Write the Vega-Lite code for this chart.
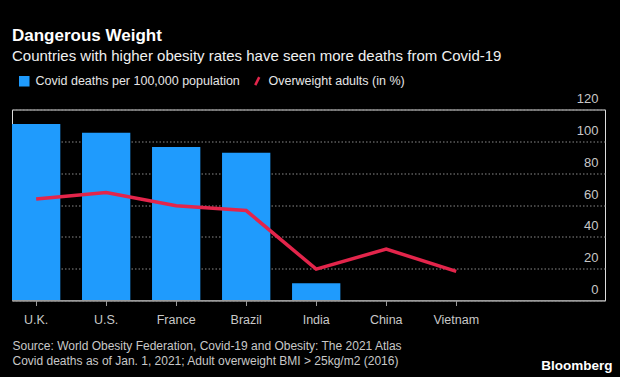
{
  "$schema": "https://vega.github.io/schema/vega-lite/v6.json",
  "width": 593,
  "height": 191,
  "autosize": {"type": "none"},
  "padding": {"left": 12, "top": 109.5, "right": 15, "bottom": 76.5},
  "background": "#000000",
  "title": {
    "text": "Dangerous Weight",
    "subtitle": "Countries with higher obesity rates have seen more deaths from Covid-19",
    "anchor": "start",
    "frame": "group",
    "offset": 10,
    "font": "Liberation Sans",
    "fontSize": 17,
    "fontWeight": "bold",
    "color": "#ffffff",
    "subtitleFont": "Liberation Sans",
    "subtitleFontSize": 15,
    "subtitleColor": "#f0f0f0",
    "subtitlePadding": 4
  },
  "config": {
    "axisRight": {
      "domain": false,
      "ticks": false,
      "grid": true,
      "gridColor": "#8a8a8a",
      "gridDash": [1.5, 2],
      "gridWidth": 1,
      "labelOverlap": false,
      "labelAlign": "right",
      "labelBaseline": "bottom",
      "labelPadding": -7,
      "labelOffset": -4,
      "labelFont": "Liberation Sans",
      "labelFontSize": 13,
      "labelColor": "#c8c8c8",
      "titleAngle": 0,
      "titleFont": "Liberation Sans",
      "titleFontSize": 13.5,
      "titleFontWeight": "bold",
      "titleColor": "#ffffff",
      "titleAlign": "right",
      "titleBaseline": "alphabetic",
      "titleX": 7,
      "titleY": 260
    }
  },
  "data": {
    "values": [
      {"country": "U.K.", "deaths": 110.9, "overweight": 63.7},
      {"country": "U.S.", "deaths": 105.4, "overweight": 67.9},
      {"country": "France", "deaths": 96.4, "overweight": 59.5},
      {"country": "Brazil", "deaths": 92.9, "overweight": 56.5},
      {"country": "India", "deaths": 10.9, "overweight": 19.7},
      {"country": "China", "deaths": 0.33, "overweight": 32.3},
      {"country": "Vietnam", "deaths": 0.04, "overweight": 18.3}
    ]
  },
  "encoding": {
    "x": {
      "field": "country",
      "type": "nominal",
      "sort": null,
      "scale": {"paddingInner": 0.31, "paddingOuter": 0.89, "align": 0},
      "axis": {
        "orient": "bottom",
        "domain": false,
        "ticks": true,
        "tickSize": 5,
        "tickColor": "#9a9a9a",
        "tickWidth": 1,
        "labelAngle": 0,
        "labelFont": "Liberation Sans",
        "labelFontSize": 12.5,
        "labelColor": "#c8c8c8",
        "labelPadding": 8,
        "title": ["Source: World Obesity Federation, Covid-19 and Obesity: The 2021 Atlas", "Covid deaths as of Jan. 1, 2021; Adult overweight BMI > 25kg/m2 (2016)"],
        "titleFont": "Liberation Sans",
        "titleFontSize": 12,
        "titleFontWeight": "normal",
        "titleColor": "#c8c8c8",
        "titleAnchor": "start",
        "titleAlign": "left",
        "titleBaseline": "alphabetic",
        "titleX": 0,
        "titleY": 48.5,
        "titleLineHeight": 15
      }
    }
  },
  "layer": [
    {
      "mark": {"type": "bar", "color": "#1f9bfd"},
      "encoding": {
        "y": {
          "field": "deaths",
          "type": "quantitative",
          "scale": {"domain": [0, 120], "nice": false},
          "axis": {"orient": "right", "values": [0, 20, 40, 60, 80, 100, 120], "title": "Bloomberg"}
        },
        "color": {
          "datum": "Covid deaths per 100,000 population",
          "scale": {
            "domain": ["Covid deaths per 100,000 population", "Overweight adults (in %)"],
            "range": ["#1f9bfd", "#e3254b"]
          },
          "legend": {
            "orient": "none",
            "legendX": 6,
            "legendY": -35,
            "direction": "horizontal",
            "title": null,
            "labelFont": "Liberation Sans",
            "labelFontSize": 12.5,
            "labelColor": "#e6e6e6",
            "labelLimit": 400,
            "symbolSize": 64,
            "columnPadding": 10,
            "labelOffset": 5,
            "encode": {
              "symbols": {
                "update": {
                  "shape": {"signal": "datum.value === 'Overweight adults (in %)' ? 'M-0.5,1L0.5,-1' : 'square'"},
                  "fill": {"signal": "datum.value === 'Overweight adults (in %)' ? 'transparent' : '#1f9bfd'"},
                  "stroke": {"signal": "datum.value === 'Overweight adults (in %)' ? '#e3254b' : 'transparent'"},
                  "strokeWidth": {"value": 2.5},
                  "opacity": {"value": 1}
                }
              }
            }
          }
        }
      }
    },
    {
      "mark": {"type": "rule", "color": "#9a9a9a", "strokeWidth": 1.2},
      "encoding": {
        "y": {"datum": 0, "type": "quantitative", "axis": {"orient": "right", "values": [0, 20, 40, 60, 80, 100, 120], "title": "Bloomberg"}},
        "x": {"value": 0},
        "x2": {"value": 593}
      }
    },
    {
      "mark": {"type": "line", "color": "#e3254b", "strokeWidth": 3.5},
      "encoding": {
        "y": {"field": "overweight", "type": "quantitative", "axis": {"orient": "right", "values": [0, 20, 40, 60, 80, 100, 120], "title": "Bloomberg"}},
        "color": {"datum": "Overweight adults (in %)"}
      }
    }
  ]
}
